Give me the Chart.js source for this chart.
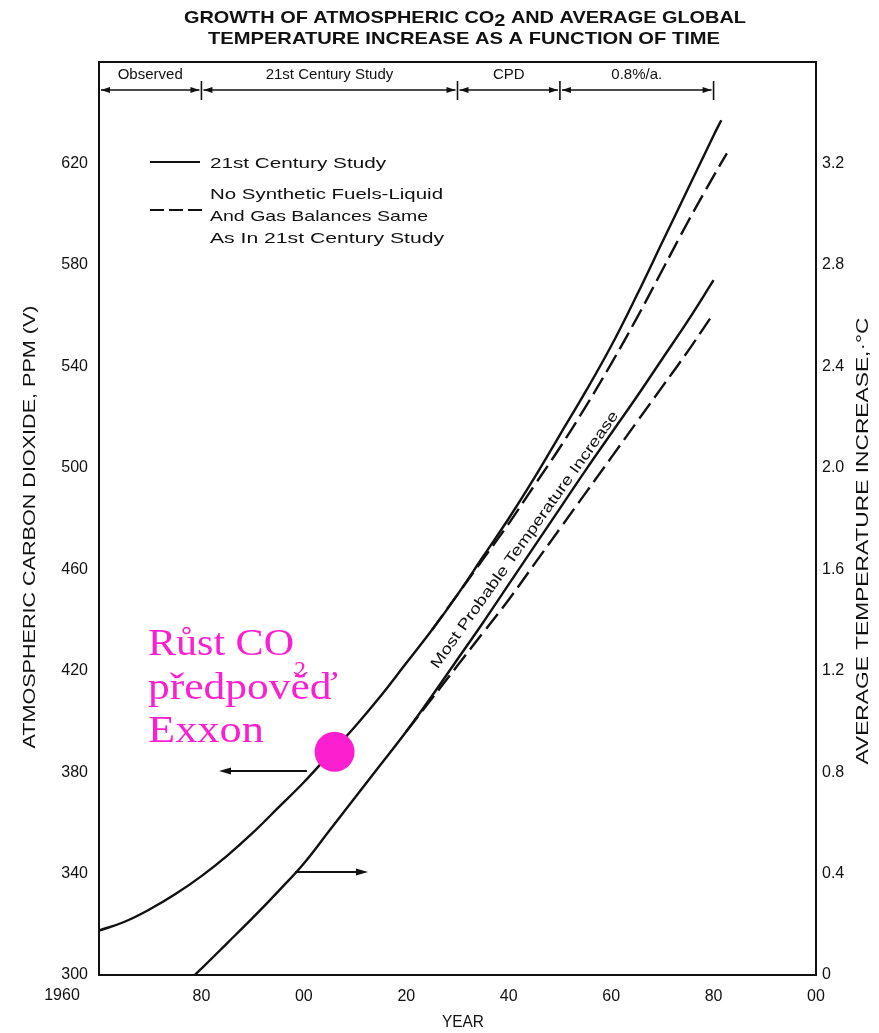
<!DOCTYPE html>
<html>
<head>
<meta charset="utf-8">
<script src="https://cdn.jsdelivr.net/npm/chart.js@4.4.1/dist/chart.umd.min.js"></script>
<style>
html,body{margin:0;padding:0;background:#fff}
</style>
</head>
<body>
<canvas id="chart" width="879" height="1033"></canvas>
<script>
// CO2, ppm (left axis)
var co2Years = [1960,1965,1970,1975,1980,1985,1990,1995,2000,2005,2010,2015,2020,2025,2030,2035,2040,2045,2050,2055,2060,2065,2070,2075,2080,2081.5];
var co2Study = [317.5,321,326,332,339,347,356,366,376,387,398,410,423,436,450,465,480,496,513,530,548,568,589,610,631,637];
var co2NoSynYears = [2025,2030,2035,2040,2045,2050,2055,2060,2065,2070,2075,2080,2082.6];
var co2NoSyn = [436,450,464,478,493,508,524,541,559,578,597,615,624];

// temperature increase, °C (right axis)
var tempYears = [1978.7,1980,1985,1990,1995,2000,2005,2010,2015,2020,2025,2030,2035,2040,2045,2050,2055,2060,2065,2070,2075,2080];
var tempStudy = [0,0.025,0.125,0.225,0.33,0.44,0.57,0.70,0.83,0.96,1.10,1.245,1.39,1.54,1.69,1.84,1.99,2.135,2.28,2.43,2.58,2.74];
var tempNoSynYears = [2020,2025,2030,2035,2040,2045,2050,2055,2060,2065,2070,2075,2079.7];
var tempNoSyn = [0.96,1.09,1.22,1.35,1.48,1.62,1.76,1.90,2.04,2.18,2.32,2.46,2.60];

// phases along the top
var phaseYears = [1960,1980,2030,2050,2080];
var phaseLabels = ['Observed','21st Century Study','CPD','0.8%/a.'];

// highlighted point (Exxon forecast)
var markYear = 2006;
var markCo2 = 388;

var MAGENTA = '#fb1fd0';
var SANS = "'Liberation Sans', Arial, sans-serif";

function pts(xs, ys) {
    return xs.map(function(x, i){ return {x: x, y: ys[i]}; });
}

// draws text squeezed/stretched to a given width
function fitText(ctx, text, cx, cy, w, align) {
    var m = ctx.measureText(text).width;
    ctx.save();
    ctx.translate(cx, cy);
    ctx.scale(w / m, 1);
    ctx.textAlign = align || 'center';
    ctx.fillText(text, 0, 0);
    ctx.restore();
}

// same, but for pieces with their own vertical offset (for the CO2 subscript)
function fitRun(ctx, parts, cx, cy, w) {
    var total = 0;
    parts.forEach(function(p){ total += ctx.measureText(p[0]).width; });
    var s = w / total;
    ctx.save();
    ctx.translate(cx - w / 2, cy);
    ctx.scale(s, 1);
    ctx.textAlign = 'left';
    var x = 0;
    parts.forEach(function(p){
        ctx.fillText(p[0], x, p[1]);
        x += ctx.measureText(p[0]).width;
    });
    ctx.restore();
}

function arrowHead(ctx, x, y, dir, len, half) {
    ctx.beginPath();
    ctx.moveTo(x, y);
    ctx.lineTo(x - dir * len, y - half);
    ctx.lineTo(x - dir * len, y + half);
    ctx.closePath();
    ctx.fill();
}

var extras = {
    id: 'extras',
    afterDraw: function(chart) {
        var ctx = chart.ctx, a = chart.chartArea;
        var sx = chart.scales.x;
        ctx.save();
        ctx.fillStyle = '#111';
        ctx.strokeStyle = '#111';

        // title
        ctx.textBaseline = 'middle';
        ctx.font = 'bold 17px ' + SANS;
        fitRun(ctx, [['GROWTH OF ATMOSPHERIC CO', 0], ['2', 3], [' AND AVERAGE GLOBAL', 0]], 465, 18, 562);
        fitText(ctx, 'TEMPERATURE INCREASE AS A FUNCTION OF TIME', 464, 39, 512);

        // top border
        ctx.lineWidth = 2;
        ctx.beginPath();
        ctx.moveTo(a.left - 1, a.top);
        ctx.lineTo(a.right + 1, a.top);
        ctx.stroke();

        // phase arrows
        var ay = 90;
        ctx.lineWidth = 1.6;
        ctx.font = '15px ' + SANS;
        for (var i = 0; i < phaseLabels.length; i++) {
            var x0 = sx.getPixelForValue(phaseYears[i]);
            var x1 = sx.getPixelForValue(phaseYears[i + 1]);
            ctx.beginPath();
            ctx.moveTo(x0 + 2, ay);
            ctx.lineTo(x1 - 2, ay);
            ctx.stroke();
            arrowHead(ctx, x0 + 2, ay, -1, 9, 3);
            arrowHead(ctx, x1 - 2, ay, 1, 9, 3);
            ctx.textAlign = 'center';
            ctx.fillText(phaseLabels[i], (x0 + x1) / 2, 75);
        }
        for (var j = 1; j < phaseYears.length; j++) {
            var xt = sx.getPixelForValue(phaseYears[j]);
            ctx.beginPath();
            ctx.moveTo(xt, 81);
            ctx.lineTo(xt, 100);
            ctx.stroke();
        }

        // legend
        ctx.lineWidth = 2.2;
        ctx.beginPath();
        ctx.moveTo(150, 162); ctx.lineTo(200, 162);
        ctx.stroke();
        ctx.setLineDash([14, 5]);
        ctx.beginPath();
        ctx.moveTo(150, 210); ctx.lineTo(202, 210);
        ctx.stroke();
        ctx.setLineDash([]);
        ctx.font = '15px ' + SANS;
        fitText(ctx, '21st Century Study', 210, 164, 176, 'left');
        fitText(ctx, 'No Synthetic Fuels-Liquid', 210, 195, 233, 'left');
        fitText(ctx, 'And Gas Balances Same', 210, 217, 218, 'left');
        fitText(ctx, 'As In 21st Century Study', 210, 239, 234, 'left');

        // rotated curve label
        ctx.save();
        ctx.translate(525, 540);
        ctx.rotate(-54.5 * Math.PI / 180);
        ctx.font = '15px ' + SANS;
        fitText(ctx, 'Most Probable Temperature Increase', 0, 0, 312);
        ctx.restore();

        // axis pointers
        ctx.lineWidth = 1.8;
        ctx.beginPath();
        ctx.moveTo(307, 771); ctx.lineTo(226, 771);
        ctx.stroke();
        arrowHead(ctx, 219, 771, -1, 12, 3.5);
        ctx.beginPath();
        ctx.moveTo(295, 872); ctx.lineTo(360, 872);
        ctx.stroke();
        arrowHead(ctx, 368, 872, 1, 12, 3.5);

        // axis titles
        ctx.font = '16px ' + SANS;
        ctx.save();
        ctx.translate(31, 527);
        ctx.rotate(-Math.PI / 2);
        fitText(ctx, 'ATMOSPHERIC CARBON DIOXIDE, PPM (V)', 0, 0, 443);
        ctx.restore();
        ctx.save();
        ctx.translate(864, 541);
        ctx.rotate(-Math.PI / 2);
        fitText(ctx, 'AVERAGE TEMPERATURE INCREASE,\u00B7\u00B0C', 0, 0, 447);
        ctx.restore();
        fitText(ctx, 'YEAR', 463, 1023, 42);
        ctx.font = '16px ' + SANS;
        ctx.textAlign = 'center';
        ctx.fillText('1960', 62, 996);

        // magenta note
        ctx.fillStyle = MAGENTA;
        ctx.textBaseline = 'alphabetic';
        ctx.font = "38px 'Liberation Serif', 'DejaVu Serif', serif";
        fitText(ctx, 'R\u016Fst CO', 148, 655, 146, 'left');
        fitText(ctx, 'p\u0159edpov\u011B\u010F', 148, 699, 190, 'left');
        fitText(ctx, 'Exxon', 148, 742, 116, 'left');
        ctx.font = "24px 'Liberation Serif', 'DejaVu Serif', serif";
        ctx.textAlign = 'left';
        ctx.fillText('2', 294, 677);
        ctx.restore();
    }
};

var ctx = document.getElementById('chart').getContext('2d');
var chart = new Chart(ctx, {
    type: 'line',
    data: {
        datasets: [{
            label: 'Exxon',
            type: 'scatter',
            data: [{x: markYear, y: markCo2}],
            yAxisID: 'y',
            pointRadius: 20,
            pointBackgroundColor: MAGENTA,
            pointBorderColor: MAGENTA,
            pointBorderWidth: 0
        }, {
            label: '21st Century Study CO2',
            data: pts(co2Years, co2Study),
            yAxisID: 'y',
            borderColor: '#111',
            borderWidth: 2.4
        }, {
            label: 'No Synthetic Fuels CO2',
            data: pts(co2NoSynYears, co2NoSyn),
            yAxisID: 'y',
            borderColor: '#111',
            borderWidth: 2.4,
            borderDash: [19, 7]
        }, {
            label: '21st Century Study temp',
            data: pts(tempYears, tempStudy),
            yAxisID: 'y2',
            borderColor: '#111',
            borderWidth: 2.4
        }, {
            label: 'No Synthetic Fuels temp',
            data: pts(tempNoSynYears, tempNoSyn),
            yAxisID: 'y2',
            borderColor: '#111',
            borderWidth: 2.4,
            borderDash: [19, 7]
        }]
    },
    options: {
        responsive: false,
        animation: false,
        devicePixelRatio: 1,
        layout: {padding: {top: 62, left: 0, right: 0, bottom: 0}},
        elements: {
            point: {radius: 0},
            line: {tension: 0.4, fill: false}
        },
        plugins: {
            legend: {display: false},
            tooltip: {enabled: false},
            title: {display: false}
        },
        scales: {
            x: {
                type: 'linear',
                min: 1960,
                max: 2100,
                grid: {display: false},
                border: {display: true, color: '#111', width: 2},
                afterFit: function(s){ s.height = 58; },
                ticks: {
                    stepSize: 20,
                    padding: 4,
                    color: '#111',
                    font: {size: 16, family: SANS},
                    maxRotation: 0,
                    callback: function(v) {
                        if (v === 1960) return '';
                        var r = v % 100;
                        return (r < 10 ? '0' : '') + r;
                    }
                }
            },
            y: {
                position: 'left',
                min: 300,
                max: 660,
                grid: {display: false},
                border: {display: true, color: '#111', width: 2},
                afterFit: function(s){ s.width = 99; },
                ticks: {
                    stepSize: 40,
                    padding: 3,
                    color: '#111',
                    font: {size: 16, family: SANS},
                    callback: function(v){ return v === 660 ? '' : v; }
                }
            },
            y2: {
                position: 'right',
                min: 0,
                max: 3.6,
                grid: {display: false},
                border: {display: true, color: '#111', width: 2},
                afterFit: function(s){ s.width = 63; },
                ticks: {
                    stepSize: 0.4,
                    padding: -2,
                    color: '#111',
                    font: {size: 16, family: SANS},
                    callback: function(v) {
                        if (v > 3.5) return '';
                        if (v === 0) return '0';
                        return v.toFixed(1);
                    }
                }
            }
        }
    },
    plugins: [extras]
});
</script>
</body>
</html>
